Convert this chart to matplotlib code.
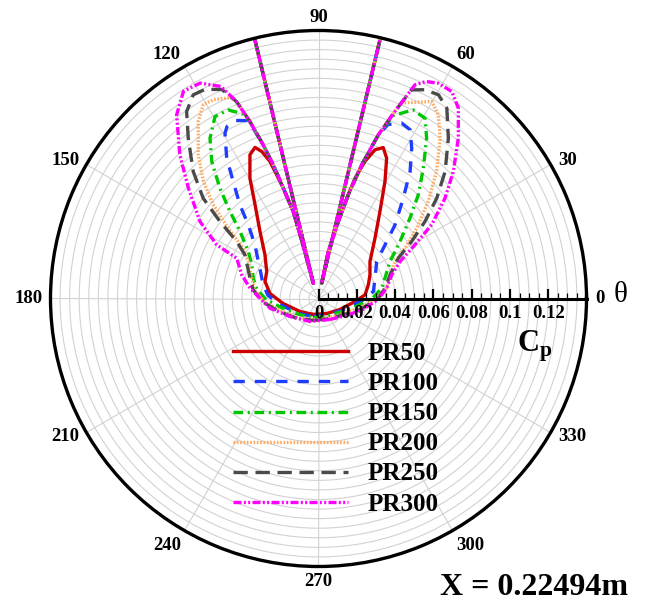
import numpy as np
import matplotlib
matplotlib.use('Agg')
import matplotlib.pyplot as plt
import matplotlib.ticker as mticker

plt.rcParams['font.family'] = ['Liberation Serif', 'DejaVu Serif']
plt.rcParams['font.weight'] = 'bold'
plt.rcParams['mathtext.fontset'] = 'custom'
plt.rcParams['mathtext.rm'] = 'Liberation Serif'
plt.rcParams['mathtext.bf'] = 'Liberation Serif:bold'

# pressure coefficient around the section, theta in degrees
theta_pr50 = [251, 299.5, 332.9, 355.3, 4.5, 15.4, 24.7, 35.7, 46.9, 54.8, 60.4, 64.1, 66.8, 69.2,
              71.3, 73.1, 74.0, 75.6, 78.2, 78.2, 76.6, 103.7, 108.8, 106.1, 106.2, 107.7, 108.7,
              109.5, 111.1, 112.8, 115.5, 119.7, 124.1, 131.1, 140.8, 152.5, 162.4, 174.1, 188,
              215.1, 251]
cp_pr50 = [0.0088, 0.0090, 0.0126, 0.0191, 0.0244, 0.0270, 0.0296, 0.0331, 0.0432, 0.0557, 0.0703,
           0.0815, 0.0858, 0.0831, 0.0756, 0.0657, 0.0564, 0.0415, 0.0251, 0.0082, 0.213, 0.213,
           0.0084, 0.0310, 0.0473, 0.0605, 0.0682, 0.0759, 0.0823, 0.0856, 0.0832, 0.0723, 0.0591,
           0.0465, 0.0361, 0.0305, 0.0293, 0.0255, 0.0187, 0.0118, 0.0088]

theta_pr100 = [253, 300.7, 332.9, 357.4, 7.3, 19.8, 32.4, 38.9, 43.9, 49.8, 54.2, 58.2, 61.5, 64.6,
               68.2, 69.9, 72.1, 74.0, 75.6, 78.2, 78.2, 76.6, 103.7, 108.8, 106.1, 106.2, 107.7,
               108.7, 109.8, 111.5, 114.9, 118.0, 119.5, 123.2, 126.1, 130.0, 133.6, 139.8, 148.4,
               156.5, 165.8, 176.6, 190.9, 217.6, 253]
cp_pr100 = [0.0098, 0.0097, 0.0138, 0.0228, 0.0289, 0.0314, 0.0360, 0.0447, 0.0555, 0.0686, 0.0818,
            0.0924, 0.1003, 0.1014, 0.0979, 0.0911, 0.0734, 0.0564, 0.0415, 0.0251, 0.0082, 0.213,
            0.213, 0.0084, 0.0310, 0.0473, 0.0605, 0.0737, 0.0853, 0.0999, 0.1025, 0.1018, 0.0992,
            0.0876, 0.0756, 0.0639, 0.0532, 0.0435, 0.0369, 0.0328, 0.0299, 0.0264, 0.0194, 0.0129,
            0.0098]

theta_pr150 = [256.7, 301.7, 331, 348, 0, 9.3, 17, 27.4, 35, 41.3, 46.1, 51.2, 56, 59.4, 63.4, 67.8,
               69.9, 72.1, 74.0, 75.6, 78.2, 78.2, 76.6, 103.7, 108.8, 106.1, 106.2, 107.7, 108.7,
               109.8, 111.2, 112.5, 115.6, 119.6, 124.1, 127.9, 131.8, 135.5, 139.5, 146.2, 153.2,
               162.7, 171.7, 181.1, 193.5, 219.4, 256.7]
cp_pr150 = [0.0102, 0.0104, 0.0140, 0.0200, 0.0280, 0.0335, 0.0363, 0.0421, 0.0520, 0.0636, 0.0752,
            0.0874, 0.1010, 0.1094, 0.1102, 0.1032, 0.0911, 0.0734, 0.0564, 0.0415, 0.0251, 0.0082,
            0.213, 0.213, 0.0084, 0.0310, 0.0473, 0.0605, 0.0737, 0.0853, 0.0992, 0.1046, 0.1092,
            0.1094, 0.1011, 0.0908, 0.0773, 0.0648, 0.0539, 0.0441, 0.0391, 0.0357, 0.0325, 0.0274,
            0.0201, 0.0132, 0.0102]

theta_pr200 = [257.9, 301.2, 328.5, 345.8, 359, 8.6, 18.3, 25.8, 30.2, 35.6, 41.5, 47.1, 52.8, 56.9,
               60.1, 67.1, 67.8, 69.9, 72.1, 74.0, 75.6, 78.2, 78.2, 76.6, 103.7, 108.8, 106.1,
               106.2, 107.7, 108.7, 109.8, 111.2, 112.6, 113.3, 117.7, 120.7, 124.2, 129.9, 134.5,
               138.3, 142.1, 146.2, 152.2, 163.1, 172.8, 183.2, 197.3, 222.8, 257.9]
cp_pr200 = [0.0112, 0.0116, 0.0150, 0.0213, 0.0300, 0.0360, 0.0394, 0.0444, 0.0523, 0.0631, 0.0765,
            0.0906, 0.1051, 0.1146, 0.1187, 0.1109, 0.1055, 0.0911, 0.0734, 0.0564, 0.0415, 0.0251,
            0.0082, 0.213, 0.213, 0.0084, 0.0310, 0.0473, 0.0605, 0.0737, 0.0853, 0.0992, 0.1114,
            0.1143, 0.1174, 0.1178, 0.1118, 0.0979, 0.0858, 0.0736, 0.0598, 0.0473, 0.0415, 0.0365,
            0.0334, 0.0285, 0.0211, 0.0146, 0.0112]

theta_pr250 = [258.4, 302, 327.9, 345.2, 359, 8.8, 18.3, 26.8, 31.5, 35.9, 40.3, 45.1, 51, 56, 59.5,
               63, 66, 67.8, 69.9, 72.1, 74.0, 75.6, 78.2, 78.2, 76.6, 103.7, 108.8, 106.1, 106.2,
               107.7, 108.7, 109.8, 111.2, 112.6, 114.8, 118.5, 121.6, 125.2, 129.1, 134.6, 139,
               142, 145.1, 149.3, 163.5, 172.2, 183, 198.2, 222.9, 258.4]
cp_pr250 = [0.0117, 0.0123, 0.0157, 0.0224, 0.0307, 0.0352, 0.0394, 0.0467, 0.0571, 0.0687, 0.0810,
            0.0937, 0.1078, 0.1199, 0.1235, 0.1224, 0.1193, 0.1055, 0.0911, 0.0734, 0.0564, 0.0415,
            0.0251, 0.0082, 0.213, 0.213, 0.0084, 0.0310, 0.0473, 0.0605, 0.0737, 0.0853, 0.0992,
            0.1114, 0.1203, 0.1243, 0.1249, 0.1195, 0.1079, 0.0932, 0.0798, 0.0653, 0.0521, 0.0447,
            0.0373, 0.0345, 0.0296, 0.0217, 0.0153, 0.0117]

theta_pr300 = [298.7, 328.3, 344.2, 359, 8.6, 17.9, 24.4, 29.1, 33.1, 38.4, 43.3, 48.9, 53.7, 57.2,
               60.9, 63.65, 65.7, 67.8, 69.9, 72.1, 74.0, 75.6, 78.2, 78.2, 76.6, 103.7, 108.8,
               106.1, 106.2, 107.7, 108.7, 109.8, 111.2, 112.6, 114.7, 118.8, 123.1, 127.7, 134,
               139.7, 147, 152.2, 153.8, 162.8, 171.4, 179.7, 191.3, 212.3, 249.7, 298.7]
cp_pr300 = [0.0125, 0.0169, 0.0231, 0.0311, 0.0360, 0.0402, 0.0468, 0.0577, 0.0706, 0.0843, 0.0968,
            0.1111, 0.1234, 0.1286, 0.1287, 0.1265, 0.1225, 0.1055, 0.0911, 0.0734, 0.0564, 0.0415,
            0.0251, 0.0082, 0.213, 0.213, 0.0084, 0.0310, 0.0473, 0.0605, 0.0737, 0.0853, 0.0992,
            0.1114, 0.1219, 0.1284, 0.1292, 0.1212, 0.1043, 0.0891, 0.0738, 0.0601, 0.0476, 0.0420,
            0.0362, 0.0306, 0.0259, 0.0176, 0.0128, 0.0125]

labels = ['PR50', 'PR100', 'PR150', 'PR200', 'PR250', 'PR300']
thetas = [theta_pr50, theta_pr100, theta_pr150, theta_pr200, theta_pr250, theta_pr300]
cps = [cp_pr50, cp_pr100, cp_pr150, cp_pr200, cp_pr250, cp_pr300]

colors = ['#cc0000', '#1f3dff', '#00c800', '#ffaa60', '#4a4a4a', '#ff00ff']
dashes = [None, (3.4, 3.0), (2.9, 1.4, 0.6, 1.4), (0.5, 0.5), (4.3, 2.3),
          (2.4, 0.7, 0.6, 0.7, 0.6, 0.7)]

RMAX = 0.14
W, H = 647, 603
CX, CY, R = 318.5, 298.5, 268

fig = plt.figure(figsize=(W / 100, H / 100), dpi=100)
ax = fig.add_axes([(CX - R) / W, (H - CY - R) / H, 2 * R / W, 2 * R / H], projection='polar')

handles = []
for th, cp, lab, c, d in zip(thetas, cps, labels, colors, dashes):
    line, = ax.plot(np.deg2rad(th), cp, color=c, lw=2.4, label=lab)
    if d is not None:
        line.set_dashes(d)
    handles.append(line)

ax.set_rlim(0, RMAX)
ax.set_rticks(np.arange(0.005, 0.136, 0.005))
ax.set_yticklabels([])
ax.tick_params(axis='y', length=0)
ax.set_xticks(np.deg2rad(np.arange(0, 360, 30)))
ax.set_xticklabels([])
ax.xaxis.set_minor_locator(mticker.FixedLocator(np.deg2rad(np.arange(0, 360, 5))))
ax.tick_params(axis='x', which='major', direction='in', length=9, width=2.2, color='black')
ax.tick_params(axis='x', which='minor', direction='in', length=4, width=0.9, color='black')
ax.grid(color='#d2d2d2', lw=0.8)
ax.spines['polar'].set_linewidth(2.4)

# angle labels outside the rim
for a in range(0, 360, 30):
    rad = np.deg2rad(a)
    cs, sn = np.cos(rad), np.sin(rad)
    ha = 'left' if cs > 0.1 else ('right' if cs < -0.1 else 'center')
    if sn > 0.6:
        va, off = 'baseline', 6
    elif sn < -0.6:
        va, off = 'top', 5
    else:
        va, off = 'center', 6
    ax.annotate(str(a), xy=(rad, RMAX), xytext=(off * cs, off * sn), textcoords='offset points',
                ha=ha, va=va, fontsize=13.5, fontweight='bold', annotation_clip=False)

# radial Cp scale along theta = 0
ax_r = fig.add_axes([CX / W, (H - CY) / H, R / W, 0.0001])
ax_r.patch.set_visible(False)
for s in ['left', 'right', 'top']:
    ax_r.spines[s].set_visible(False)
ax_r.spines['bottom'].set_linewidth(2.2)
ax_r.set_xlim(0, RMAX)
ax_r.set_yticks([])
ax_r.set_xticks(np.arange(0, 0.121, 0.02))
ax_r.set_xticklabels(['0', '0.02', '0.04', '0.06', '0.08', '0.1', '0.12'])
ax_r.xaxis.set_minor_locator(mticker.MultipleLocator(0.005))
ax_r.tick_params(axis='x', which='major', direction='in', length=7, width=1.6, pad=5,
                 labelsize=13.5)
ax_r.tick_params(axis='x', which='minor', direction='in', length=4, width=0.9)

fig.legend(handles=handles, loc='upper left', bbox_to_anchor=(233 / W, 1 - 342 / H),
           frameon=False, prop={'family': 'Liberation Serif', 'weight': 'bold', 'size': 18},
           handlelength=4.6, handletextpad=0.8, labelspacing=0.285, borderpad=0,
           borderaxespad=0)

fig.text(621 / W, 1 - 295 / H, 'θ', fontsize=21, fontweight='normal', ha='center', va='center')
fig.text(517 / W, 1 - 352 / H, r'$\mathbf{C}_{\mathbf{p}}$', fontsize=22, ha='left',
         va='baseline')
fig.text(628 / W, 0.002, 'X = 0.22494m', fontsize=23, fontweight='bold', ha='right',
         va='bottom')

fig.savefig('out.png', dpi=100)
